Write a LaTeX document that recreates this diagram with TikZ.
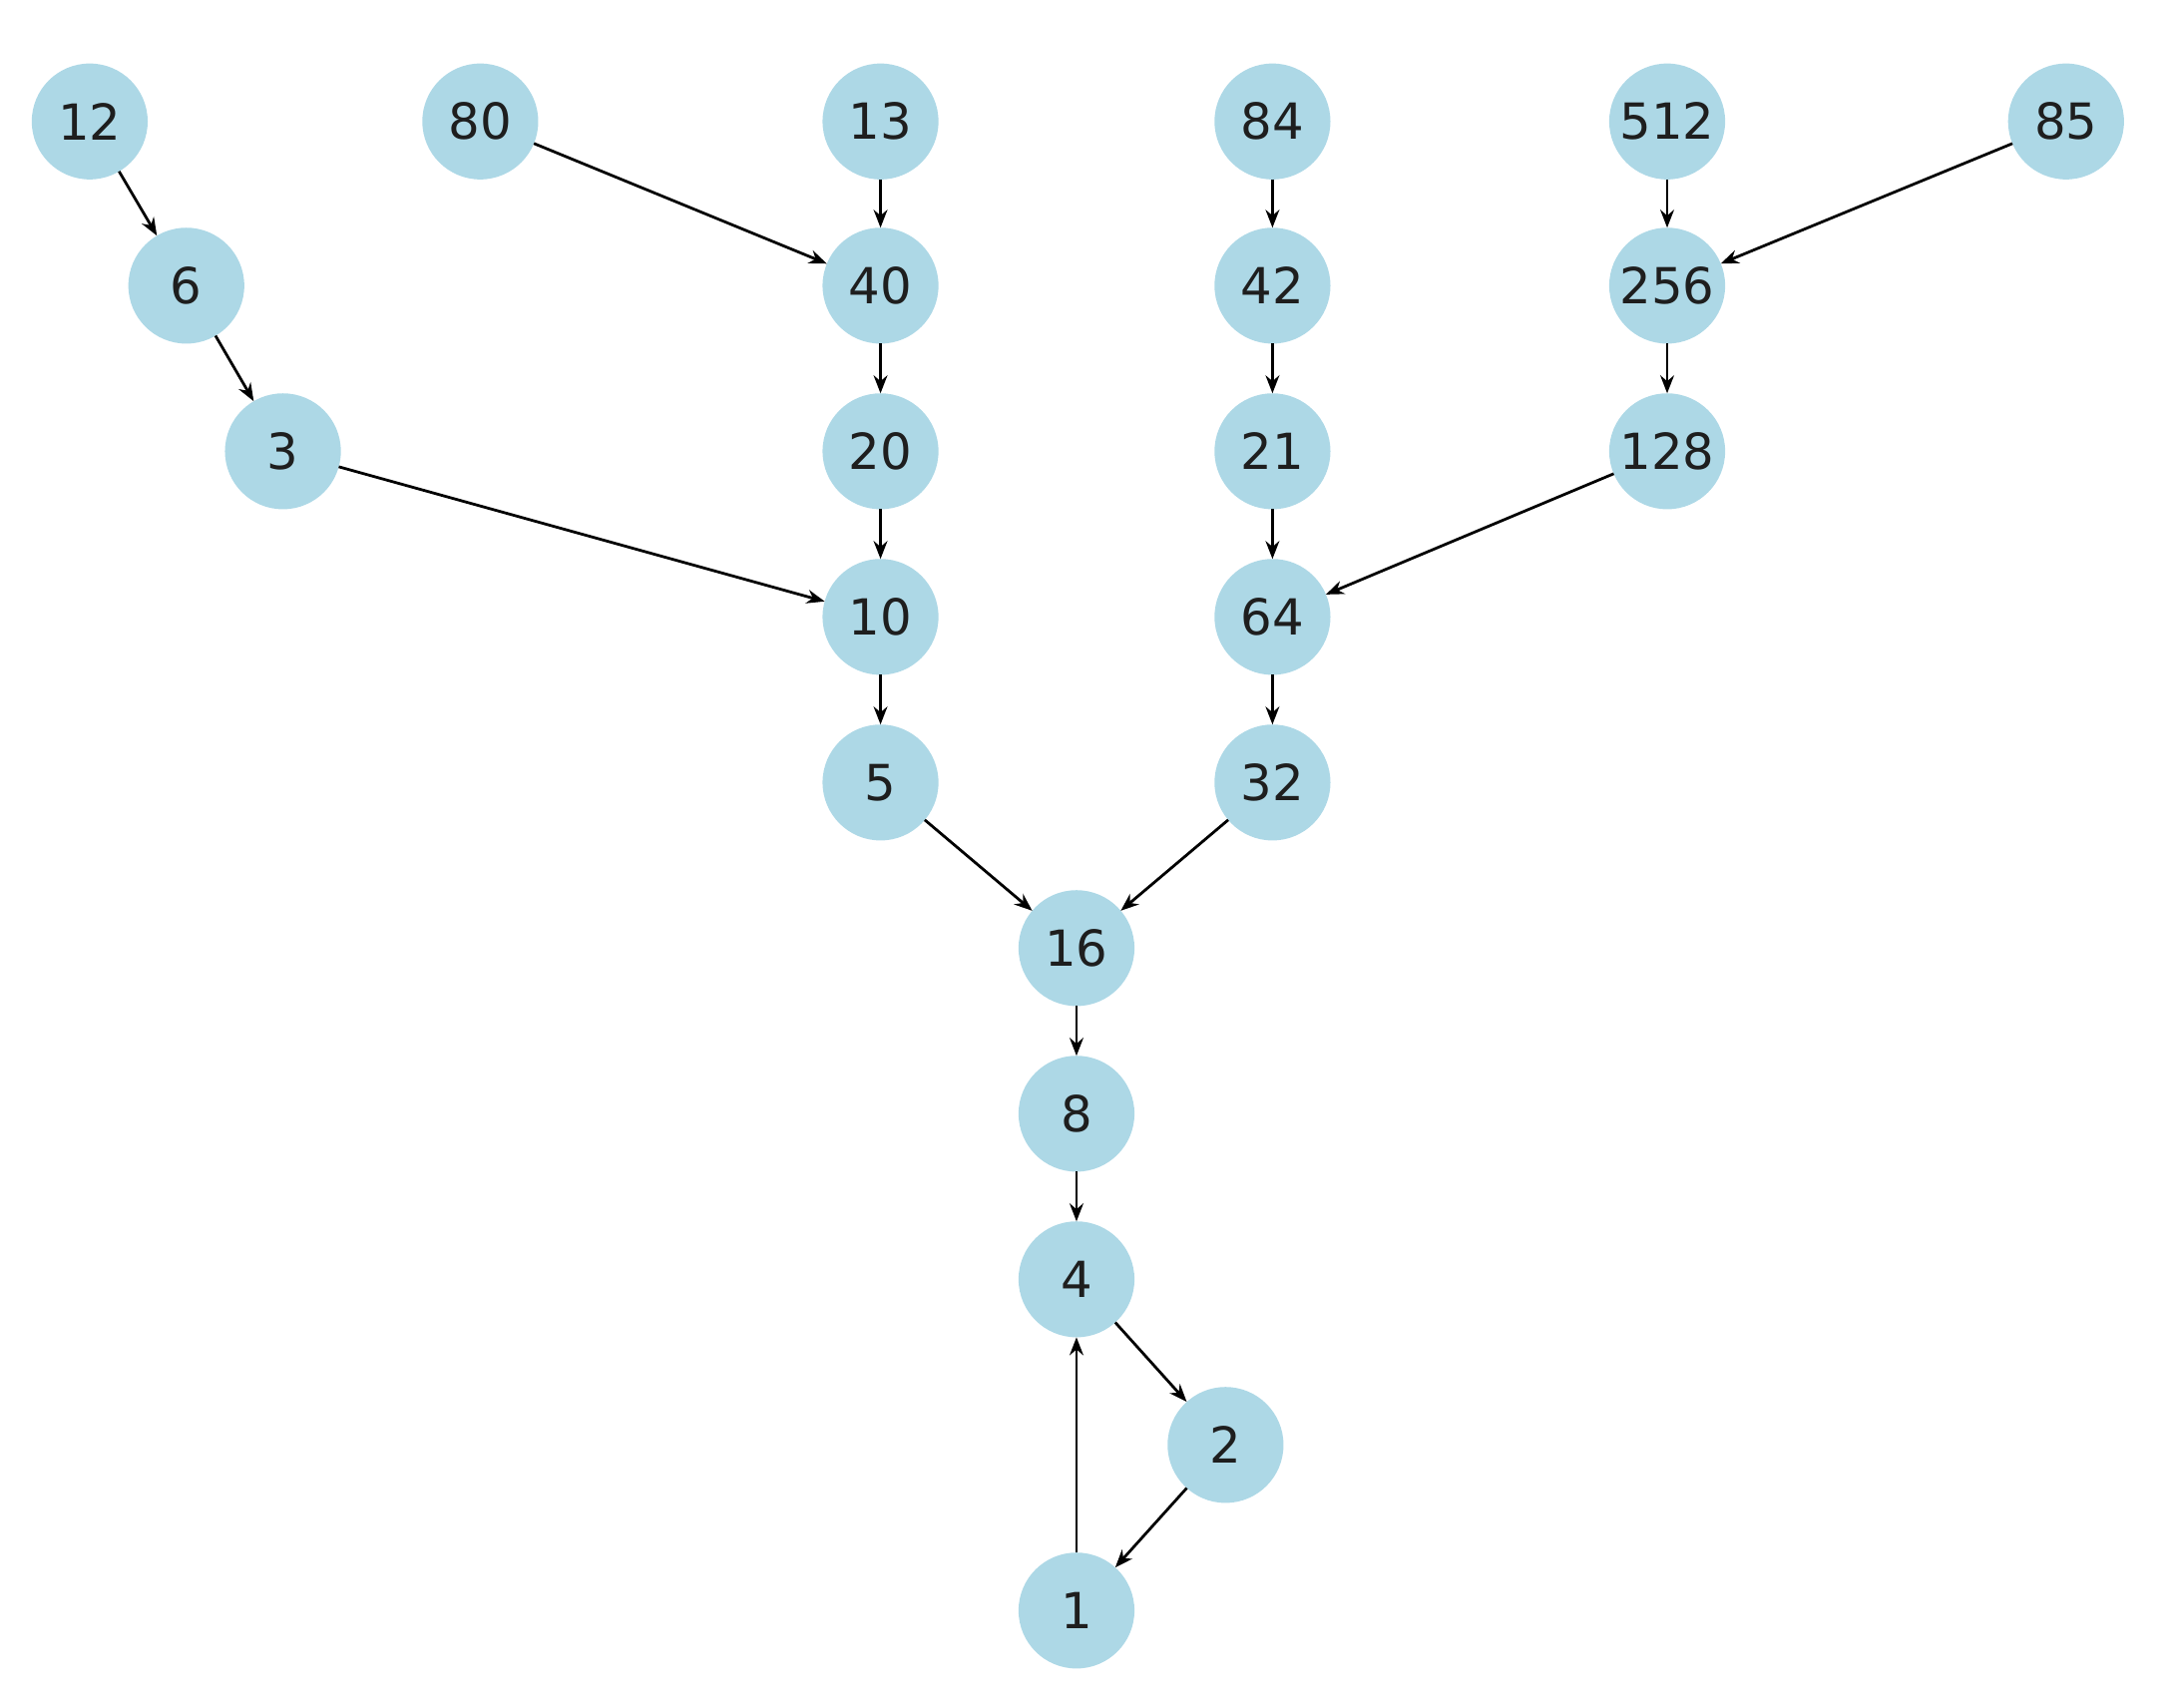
\documentclass[tikz,border=0pt]{standalone}
\usepackage{fontspec}
\setmainfont{DejaVu Sans}
\usetikzlibrary{arrows.meta}
\begin{document}
\begin{tikzpicture}[x=1pt,y=-1pt,
  nd/.style={circle,fill={rgb,255:red,173;green,216;blue,230},minimum size=84pt,inner sep=0pt,outer sep=0pt,font=\fontsize{36}{40}\selectfont,text={rgb,255:red,30;green,30;blue,30}},
  ed/.style={-{Stealth[length=13pt,width=10pt]},line width=2pt,black}]
\useasboundingbox (0,0) rectangle (1568,1237);
\node[nd] (n12) at (65,88) {12};
\node[nd] (n80) at (348,88) {80};
\node[nd] (n13) at (638,88) {13};
\node[nd] (n84) at (922,88) {84};
\node[nd] (n512) at (1208,88) {512};
\node[nd] (n85) at (1497,88) {85};
\node[nd] (n6) at (135,207) {6};
\node[nd] (n40) at (638,207) {40};
\node[nd] (n42) at (922,207) {42};
\node[nd] (n256) at (1208,207) {256};
\node[nd] (n3) at (205,327) {3};
\node[nd] (n20) at (638,327) {20};
\node[nd] (n21) at (922,327) {21};
\node[nd] (n128) at (1208,327) {128};
\node[nd] (n10) at (638,447) {10};
\node[nd] (n64) at (922,447) {64};
\node[nd] (n5) at (638,567) {5};
\node[nd] (n32) at (922,567) {32};
\node[nd] (n16) at (780,687) {16};
\node[nd] (n8) at (780,807) {8};
\node[nd] (n4) at (780,927) {4};
\node[nd] (n2) at (888,1047) {2};
\node[nd] (n1) at (780,1167) {1};
\draw[ed] (n12)--(n6);
\draw[ed] (n6)--(n3);
\draw[ed] (n3)--(n10);
\draw[ed] (n80)--(n40);
\draw[ed] (n13)--(n40);
\draw[ed] (n40)--(n20);
\draw[ed] (n20)--(n10);
\draw[ed] (n10)--(n5);
\draw[ed] (n5)--(n16);
\draw[ed] (n84)--(n42);
\draw[ed] (n42)--(n21);
\draw[ed] (n21)--(n64);
\draw[ed] (n512)--(n256);
\draw[ed] (n85)--(n256);
\draw[ed] (n256)--(n128);
\draw[ed] (n128)--(n64);
\draw[ed] (n64)--(n32);
\draw[ed] (n32)--(n16);
\draw[ed] (n16)--(n8);
\draw[ed] (n8)--(n4);
\draw[ed] (n4)--(n2);
\draw[ed] (n2)--(n1);
\draw[ed] (n1)--(n4);
\end{tikzpicture}
\end{document}
